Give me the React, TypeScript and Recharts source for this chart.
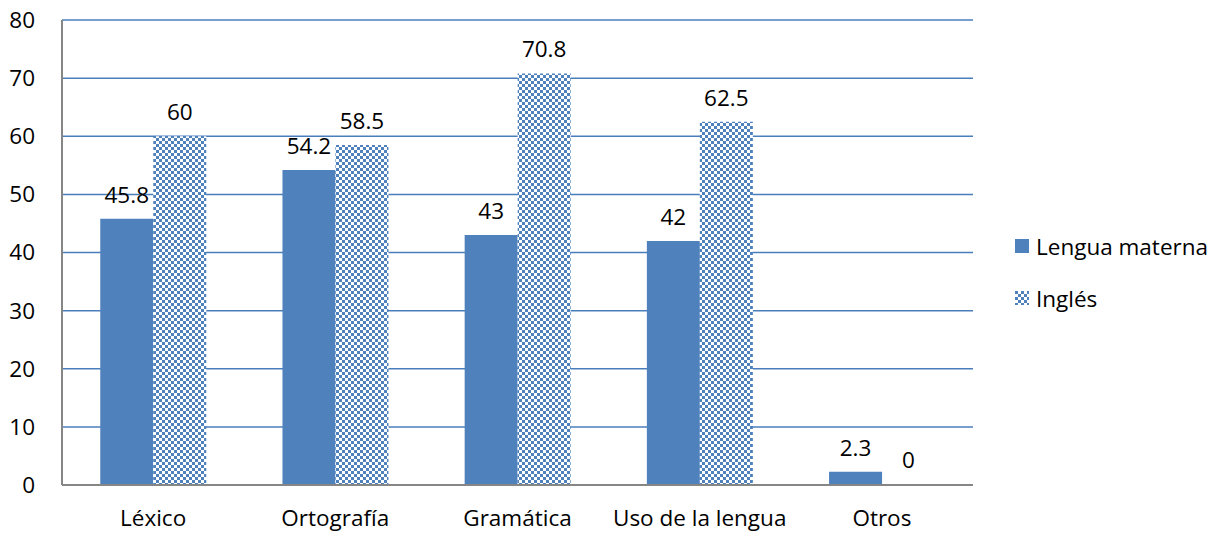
import React from 'react';
import { BarChart, Bar, XAxis, YAxis, CartesianGrid, LabelList } from 'recharts';

// categorías y valores (%)
const categories = ['Léxico', 'Ortografía', 'Gramática', 'Uso de la lengua', 'Otros'];
const lenguaMaterna = [45.8, 54.2, 43, 42, 2.3];
const ingles = [60, 58.5, 70.8, 62.5, 0];
const yTicks = [0, 10, 20, 30, 40, 50, 60, 70, 80];

const data = categories.map((name, i) => ({
  name,
  materna: lenguaMaterna[i],
  ingles: ingles[i],
}));

const FONT = '"Open Sans", sans-serif';
const FS = 22.5;
const BLUE = '#4F81BD';

const LegendBox = () => (
  <div style={{ position: 'absolute', left: 1015, top: 233, fontFamily: FONT, fontSize: FS, color: '#000' }}>
    <div style={{ display: 'flex', alignItems: 'center', height: 26, marginBottom: 26 }}>
      <span style={{ width: 14, height: 14, background: BLUE, display: 'inline-block', marginRight: 7 }} />
      Lengua materna
    </div>
    <div style={{ display: 'flex', alignItems: 'center', height: 26 }}>
      <svg width={14} height={14} style={{ marginRight: 7 }}>
        <defs>
          <pattern id="checkerLegend" width={6} height={6} patternUnits="userSpaceOnUse">
            <rect width={6} height={6} fill="#fff" />
            <rect width={3} height={3} fill={BLUE} />
            <rect x={3} y={3} width={3} height={3} fill={BLUE} />
          </pattern>
        </defs>
        <rect width={14} height={14} fill="url(#checkerLegend)" />
      </svg>
      Inglés
    </div>
  </div>
);

export default function App() {
  return (
    <div style={{ position: 'absolute', left: 0, top: 0, width: 1222, height: 534, background: '#fff' }}>
      <BarChart
        width={1222}
        height={534}
        data={data}
        margin={{ top: 20, right: 249, left: 0, bottom: 9 }}
        barCategoryGap="21%"
        barGap={0}
      >
        <defs>
          <pattern id="checker" width={6} height={6} patternUnits="userSpaceOnUse">
            <rect width={6} height={6} fill="#fff" />
            <rect width={3} height={3} fill={BLUE} />
            <rect x={3} y={3} width={3} height={3} fill={BLUE} />
          </pattern>
        </defs>
        <CartesianGrid vertical={false} stroke="#4A7EBB" strokeWidth={1.5} />
        <XAxis
          dataKey="name"
          height={40}
          tickLine={false}
          tickSize={0}
          tickMargin={25}
          axisLine={{ stroke: '#868686', strokeWidth: 2 }}
          tick={{ fill: '#000', fontSize: FS, fontFamily: FONT }}
        />
        <YAxis
          width={62}
          domain={[0, 80]}
          ticks={yTicks}
          interval={0}
          tickLine={false}
          tickSize={0}
          tickMargin={27}
          axisLine={{ stroke: '#868686', strokeWidth: 2 }}
          tick={{ fill: '#000', fontSize: FS, fontFamily: FONT }}
        />
        <Bar dataKey="materna" name="Lengua materna" fill={BLUE} isAnimationActive={false}>
          <LabelList dataKey="materna" position="top" offset={16} fill="#000" fontSize={FS} fontFamily={FONT} />
        </Bar>
        <Bar dataKey="ingles" name="Inglés" fill="url(#checker)" minPointSize={1} isAnimationActive={false}>
          <LabelList dataKey="ingles" position="top" offset={16} fill="#000" fontSize={FS} fontFamily={FONT} />
        </Bar>
      </BarChart>
      <LegendBox />
    </div>
  );
}
